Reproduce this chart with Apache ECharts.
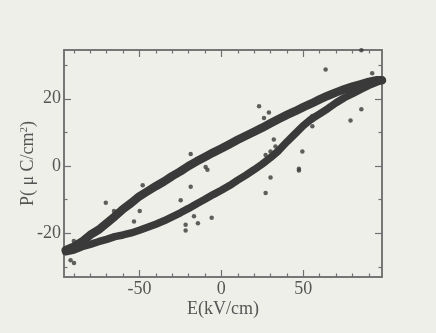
<!DOCTYPE html>
<html><head><meta charset="utf-8">
<script src="https://cdn.jsdelivr.net/npm/echarts@6/dist/echarts.min.js"></script>
<style>html,body{margin:0;padding:0;background:#efefea}#c{width:436px;height:333px}</style>
</head><body><div id="c"></div><script>
// Upper (descending) branch of the P-E loop
const upperE = [-95,-90,-85,-80,-75,-70,-65,-60,-55,-50,-45,-40,-35,-30,-25,-20,-15,-10,-5,0,5,10,15,20,25,30,35,40,45,50,55,60,65,70,75,80,85,90,95,98];
const upperP = [-25,-24,-22.5,-20.5,-19,-17,-15,-12.8,-11,-9,-7.5,-6,-4.6,-3,-1.6,0,1.4,2.7,4,5.2,6.5,7.8,9,10.2,11.4,12.7,14,15.2,16.3,17.5,18.6,19.8,20.9,21.9,22.8,23.6,24.3,25,25.5,25.5];
// Lower (ascending) branch
const lowerE = [-95,-90,-85,-80,-75,-70,-65,-60,-55,-50,-45,-40,-35,-30,-25,-20,-15,-10,-5,0,5,10,15,20,25,30,35,40,45,50,55,60,65,70,75,80,85,90,95,98];
const lowerP = [-25.5,-25,-24,-23.3,-22.5,-21.8,-21,-20.5,-19.9,-19.1,-18.2,-17.3,-16.3,-15.1,-13.9,-12.6,-11.2,-9.9,-8.5,-7.2,-5.8,-4.2,-2.7,-1.1,0.6,2.5,4.6,7.2,9.6,12,14,15.5,17.1,18.8,20.3,21.5,22.8,24,25,25.5];
// Stray points
const outlierE = [85.4,63.6,23,29,26,55.5,55.5,55.5,78.8,85.4,92,32,33,30,27,49.4,47.3,27,30,47.3,-18.7,-8.5,-48,-18.7,-70.5,-24.8,-65.5,-49.8,-53.3,-16.7,-5.9,-21.8,-14.3,-21.8,-77.7,-89.9,-92,-90,-9.6];
const outlierP = [34.4,28.7,17.8,15.9,14.3,14.9,13.5,11.8,13.5,16.9,27.6,7.9,5.8,4.3,3.3,4.3,-0.8,-8,-3.4,-1.3,3.6,-1.1,-5.7,-6.2,-10.9,-10.2,-13.4,-13.4,-16.5,-14.9,-15.4,-17.5,-17,-19.2,-33.3,-28.8,-28,-22.3,-0.3];
// Tick labels and tick positions
const xLabels = [-50, 0, 50];
const yLabels = [-20, 0, 20];
const xMinorTicks = [-90,-80,-70,-60,-40,-30,-20,-10,10,20,30,40,60,70,80,90];
const yMinorTicks = [-30,-10,10,30];

const zip = (a, b) => a.map((v, i) => [v, b[i]]);
const axisColor = '#6f6f6f';
const font = 'Liberation Serif';
const X = {min: -96, max: 98};
const Y = {min: -33, max: 34.5};
const gridRect = {left: 64, right: 54, top: 50, bottom: 56};
function xa(grid, pos, ticks, len, labels, name) {
  return {type: 'value', gridIndex: grid, position: pos, min: X.min, max: X.max,
    axisLine: {show: true, onZero: false, lineStyle: {color: axisColor, width: 1.5}},
    axisTick: {show: true, inside: true, length: len, customValues: ticks, lineStyle: {color: axisColor, width: 1.2}},
    axisLabel: {show: labels, margin: 3, fontFamily: font, fontSize: 18, color: '#555', customValues: xLabels},
    splitLine: {show: false},
    name: name || '', nameLocation: 'middle', nameGap: 23, nameMoveOverlap: false,
    nameTextStyle: {fontFamily: font, fontSize: 18, color: '#555', verticalAlign: 'top'}};
}
function ya(grid, pos, ticks, len, labels, name) {
  return {type: 'value', gridIndex: grid, position: pos, min: Y.min, max: Y.max,
    axisLine: {show: true, onZero: false, lineStyle: {color: axisColor, width: 1.5}},
    axisTick: {show: true, inside: true, length: len, customValues: ticks, lineStyle: {color: axisColor, width: 1.2}},
    axisLabel: {show: labels, margin: 3, fontFamily: font, fontSize: 18, color: '#555', customValues: yLabels},
    splitLine: {show: false},
    name: name || '', nameLocation: 'middle', nameGap: 26, nameRotate: 90, nameMoveOverlap: false,
    nameTextStyle: {fontFamily: font, fontSize: 18, color: '#555',
      rich: {a: {fontFamily: font, fontSize: 18, color: '#555'},
             s: {fontFamily: font, fontSize: 11, color: '#555', verticalAlign: 'top', padding: [0,0,8,0]}}}};
}
const chart = echarts.init(document.getElementById('c'), null, {renderer: 'canvas'});
chart.setOption({
  backgroundColor: '#efefea',
  animation: false,
  grid: [Object.assign({}, gridRect), Object.assign({}, gridRect)],
  xAxis: [xa(0, 'bottom', xMinorTicks, 3.5, true, 'E(kV/cm)'), xa(0, 'top', xMinorTicks, 3.5, false),
          xa(1, 'bottom', xLabels, 7, false), xa(1, 'top', xLabels, 7, false)],
  yAxis: [ya(0, 'left', yMinorTicks, 3.5, true, '{a|P( μ C/cm}{s|2}{a|)}'), ya(0, 'right', yMinorTicks, 3.5, false),
          ya(1, 'left', yLabels, 7, false), ya(1, 'right', yLabels, 7, false)],
  series: [
    {type: 'line', xAxisIndex: 0, yAxisIndex: 0, data: zip(upperE, upperP), symbol: 'none',
     lineStyle: {color: '#3a3a3a', width: 8.5, cap: 'round', join: 'round'}},
    {type: 'line', xAxisIndex: 0, yAxisIndex: 0, data: zip(lowerE, lowerP), symbol: 'none',
     lineStyle: {color: '#3a3a3a', width: 7.5, cap: 'round', join: 'round'}},
    {type: 'scatter', xAxisIndex: 0, yAxisIndex: 0, data: zip(outlierE, outlierP), symbolSize: 4.5,
     itemStyle: {color: '#3a3a3a'}}
  ]
});
</script></body></html>
